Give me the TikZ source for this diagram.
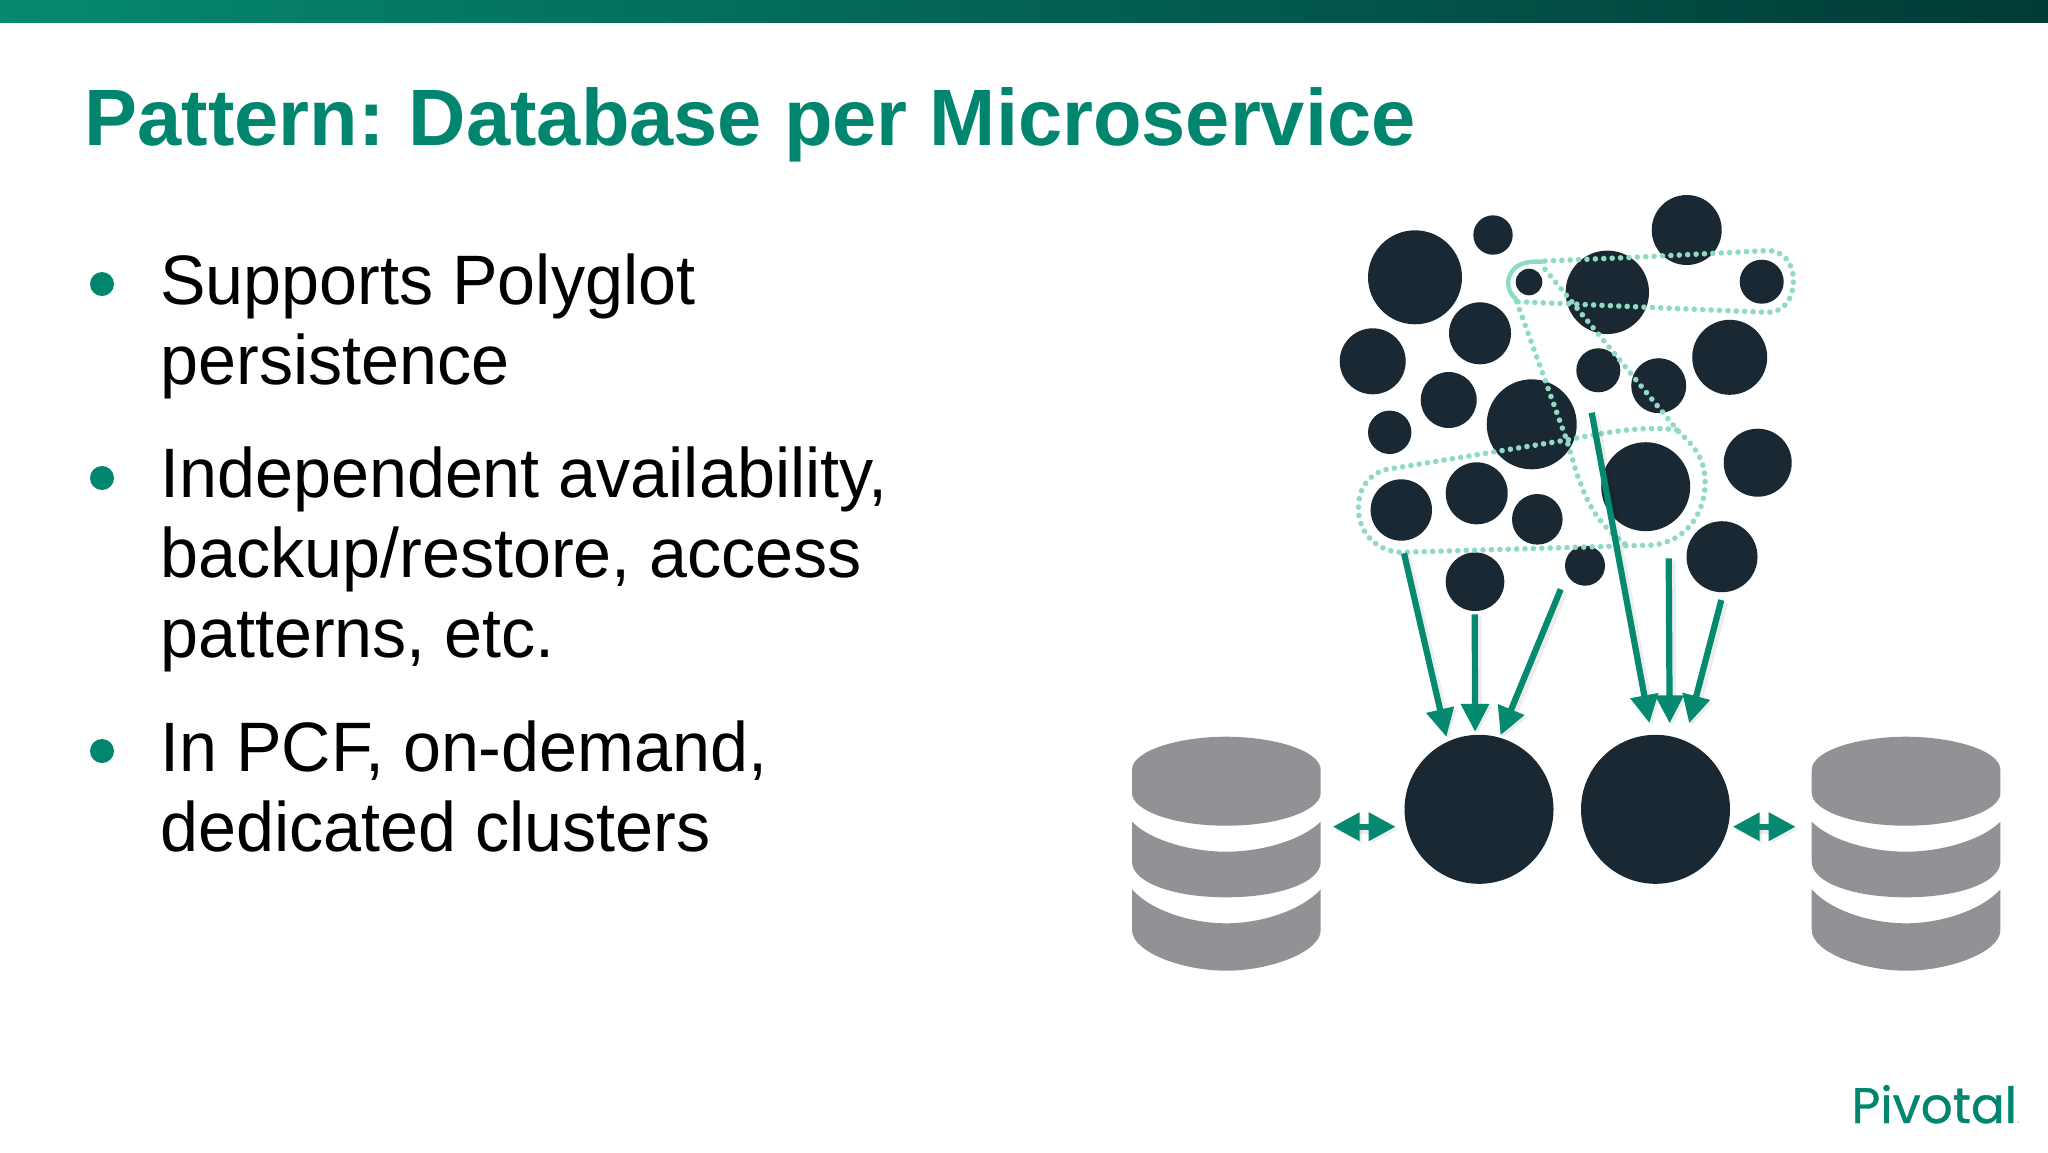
\documentclass[tikz,border=0pt]{standalone}
\usepackage{fontspec}
\setmainfont{Liberation Sans}
\newfontfamily\bodyfont[FakeStretch=0.975]{Liberation Sans}
\newfontfamily\titlefont[FakeStretch=0.993]{Liberation Sans}
\newfontfamily\logofont[FakeBold=0.7]{Poppins}
\usetikzlibrary{arrows.meta}
\definecolor{teal}{HTML}{00866F}
\definecolor{arrowteal}{HTML}{05896F}
\definecolor{ink}{HTML}{192833}
\definecolor{dbgray}{HTML}{939195}
\definecolor{mint}{HTML}{8FDAC4}
\definecolor{barL}{HTML}{05896F}
\definecolor{barR}{HTML}{013B36}
\tikzset{
  dot/.style={circle,fill=ink,inner sep=0pt,outer sep=0pt,draw=none},
  title/.style={anchor=base west,inner sep=0pt,text=teal,font=\titlefont\fontsize{40}{46}\selectfont\bfseries},
  body/.style={anchor=base west,inner sep=0pt,align=left,text=black,font=\bodyfont\fontsize{35}{40}\selectfont},
  bullet/.style={circle,fill=teal,inner sep=0pt,minimum size=12pt},
  dbdisk/.style={fill=dbgray,draw=none},
  softshadow/.style={preaction={draw=black,opacity=.07,line width=4.5pt,transform canvas={shift={(1.2pt,-1.2pt)}}}},
  arrowline/.style={softshadow,draw=arrowteal,line width=3.1pt,-{Triangle[length=14pt,width=13.5pt]},arrowteal},
  biarrow/.style={softshadow,draw=arrowteal,line width=3.2pt,{Triangle[length=13.5pt,width=13.5pt]}-{Triangle[length=13.5pt,width=13.5pt]},arrowteal},
  dots/.style={draw=mint,line width=2.8pt,line cap=round,dash pattern=on 0pt off 4.2pt},
}
\newcommand{\dbshape}{%
  \fill[dbdisk] (1132,770) .. controls (1132,750) and (1180,736.7) .. (1226.3,736.7) .. controls (1272,736.7) and (1320.7,750) .. (1320.7,770) -- (1320.7,793) .. controls (1320.7,810) and (1280,825.7) .. (1226.3,825.7) .. controls (1172,825.7) and (1132,810) .. (1132,793) -- cycle;
  \fill[dbdisk] (1132,821.7) .. controls (1150,840) and (1190,851.7) .. (1226.3,851.7) .. controls (1262,851.7) and (1302,840) .. (1320.7,821.7) -- (1320.7,861.7) .. controls (1320.7,882) and (1280,897.3) .. (1226.3,897.3) .. controls (1172,897.3) and (1132,882) .. (1132,861.7) -- cycle;
  \fill[dbdisk] (1132,889.3) .. controls (1150,910) and (1190,923.3) .. (1226.3,923.3) .. controls (1262,923.3) and (1302,910) .. (1320.7,889.3) -- (1320.7,930) .. controls (1320.7,952) and (1270,970.7) .. (1226.3,970.7) .. controls (1182,970.7) and (1132,952) .. (1132,930) -- cycle;
}
\begin{document}
\begin{tikzpicture}[x=.5pt,y=-.5pt]
\useasboundingbox (0,0) rectangle (2048,1152);
\fill[white] (0,0) rectangle (2048,1152);
\shade[left color=barL,right color=barR,middle color=barL!50!barR] (0,0) rectangle (2048,22);

\node[title] (heading) at (84,145.5) {Pattern:\kern-2.5pt{} Database per Microservice};
\node[bullet] (b1) at (102,284) {};
\node[bullet] (b2) at (102,478) {};
\node[bullet] (b3) at (102,751) {};
\node[body] (t1) at (160,384.5) {Supports Polyglot\\persistence};
\node[body] (t2) at (160,657.5) {Independent availability,\\backup/restore, access\\patterns, etc.};
\node[body] (t3) at (160,851) {In PCF, on-demand,\\dedicated clusters};

\foreach \i/\x/\y/\r in {1/1415/277.3/47,2/1493/235/19.7,3/1686.7/230/35,4/1529/282/13.3,5/1607.3/292.3/41.7,6/1761.7/281.7/22,7/1480/333.3/31,8/1372.7/361.3/33,9/1598.3/370.3/22,10/1658.7/385.7/27.5,11/1729.7/357.3/37.5,12/1448.7/400/28,13/1389.7/432.3/21.7,14/1531.7/424.3/45,15/1757.7/462.7/34,16/1645.7/486.7/44.5,17/1401.3/510/30.7,18/1476.7/493.3/31,19/1537.3/519.3/25.3,20/1722/556.7/35.5,21/1475/581.7/29.3,22/1585/565.7/20}
  \node[dot,minimum size=\r pt] (c\i) at (\x,\y) {};

\node[dot,minimum size=74.5pt] (bigL) at (1479,809.3) {};
\node[dot,minimum size=74.5pt] (bigR) at (1655.5,809.3) {};

\begin{scope}[shift={(1300,180)},x=.16667pt,y=-.16667pt]
  \draw[dots] (735,243) -- (1000,232) -- (1400,212) .. controls (1450,210) and (1480,250) .. (1480,300) .. controls (1480,360) and (1450,397) .. (1400,397) -- (650,365);
  \draw[draw=mint,line width=2.2pt] (650,358) .. controls (622,340) and (620,300) .. (630,285) .. controls (645,250) and (680,243) .. (730,245);
  \draw[dots] (650,365) -- (800,780) -- (830,880) .. controls (860,960) and (880,1020) .. (975,1092);
  \draw[dots] (735,268) -- (1140,760) .. controls (1200,810) and (1218,860) .. (1215,920) .. controls (1210,1010) and (1150,1085) .. (1060,1095) -- (300,1117) .. controls (220,1110) and (175,1050) .. (175,985) .. controls (175,930) and (200,890) .. (250,870) -- (800,780) .. controls (900,760) and (1030,735) .. (1130,750);
\end{scope}

\dbshape
\begin{scope}[shift={(679.7,0)}]\dbshape\end{scope}

\coordinate (sa1) at (1404,553.3);
\coordinate (sa2) at (1474.7,614.3);
\coordinate (sa3) at (1560.7,589.3);
\coordinate (sb1) at (1591.7,412.7);
\coordinate (sb2) at (1668.7,558.3);
\coordinate (sb3) at (1721.3,600);
\draw[arrowline,shorten >=2.5pt] (sa1) -- (bigL.115.3);
\draw[arrowline,shorten >=1.5pt] (sa2) -- (bigL.93.5);
\draw[arrowline,shorten >=1.25pt] (sa3) -- (bigL.74.7);
\draw[arrowline,shorten >=6pt] (sb1) -- (bigR.93.2);
\draw[arrowline,shorten >=6.4pt] (sb2) -- (bigR.79.8);
\draw[arrowline,shorten >=9pt] (sb3) -- (bigR.67.9);

\coordinate (dbLport) at (1332.7,826.7);
\coordinate (bigLport) at (1395.7,826.7);
\coordinate (bigRport) at (1732.7,826.7);
\coordinate (dbRport) at (1795.7,826.7);
\draw[biarrow] (dbLport) -- (bigLport);
\draw[biarrow] (bigRport) -- (dbRport);

\node[anchor=base west,inner sep=0pt,text=teal,font=\logofont\fontsize{25}{28}\selectfont] (logo) at (1851,1123) {Pivotal{\fontsize{6}{6}\selectfont\color{teal!40}.}};
\end{tikzpicture}
\end{document}
